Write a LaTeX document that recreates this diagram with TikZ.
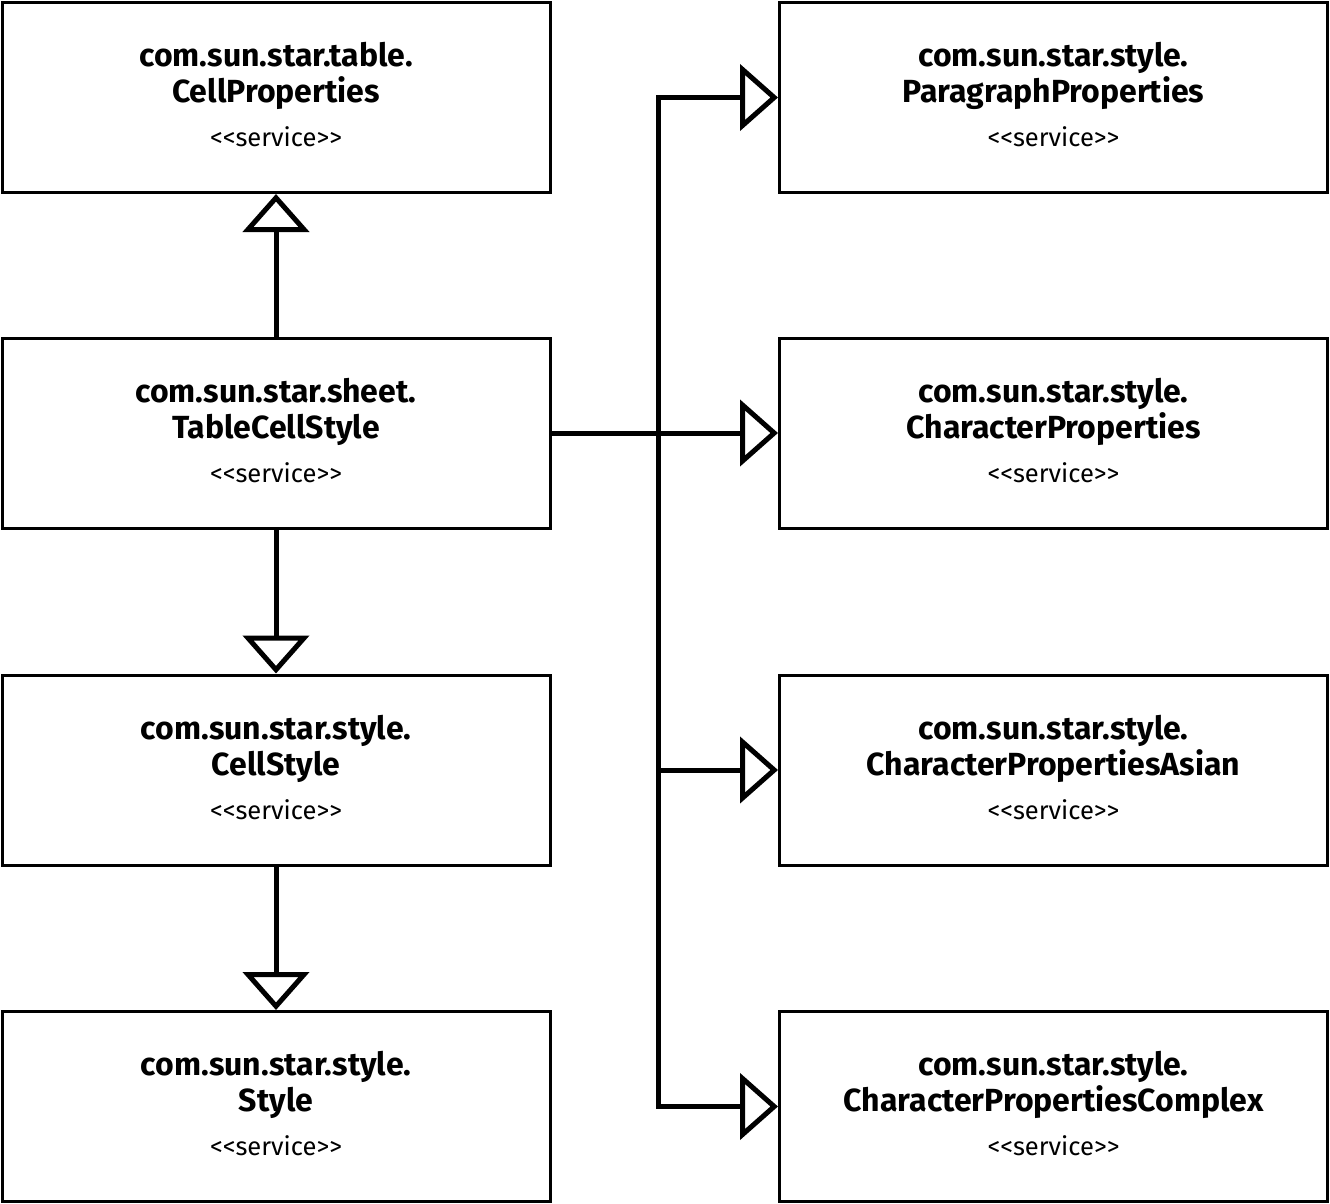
\documentclass[tikz,border=0pt]{standalone}
\usepackage{fontspec}
\setmainfont{Fira Sans}
\usetikzlibrary{arrows.meta}
\begin{document}
\begin{tikzpicture}[x=1pt,y=-1pt,
  svc/.style={draw, line width=3pt, minimum width=548pt, minimum height=190pt, inner sep=0pt, align=center, font=\fontsize{32}{36}\selectfont\bfseries},
  inh/.style={line width=5pt, -{Triangle[open, length=38pt, width=66pt]}}]
\useasboundingbox (0,0) rectangle (1330,1204);
\newcommand{\svcbox}[2]{#1\\#2\\[8pt]{\mdseries\fontsize{25.5}{28}\selectfont <{}<service>{}>\rule[-6pt]{0pt}{0pt}}}
\node[svc] (cellprop) at (276,97.5) {\svcbox{com.sun.star.table.}{CellProperties}};
\node[svc] (tcs) at (276,433) {\svcbox{com.sun.star.sheet.}{TableCellStyle}};
\node[svc] (cellstyle) at (276,770) {\svcbox{com.sun.star.style.}{CellStyle}};
\node[svc] (style) at (276,1106.5) {\svcbox{com.sun.star.style.}{Style}};
\node[svc] (pp) at (1053.5,97.5) {\svcbox{com.sun.star.style.}{ParagraphProperties}};
\node[svc] (cp) at (1053.5,433) {\svcbox{com.sun.star.style.}{CharacterProperties}};
\node[svc] (cpa) at (1053.5,770) {\svcbox{com.sun.star.style.}{CharacterPropertiesAsian}};
\node[svc] (cpc) at (1053.5,1106.5) {\svcbox{com.sun.star.style.}{CharacterPropertiesComplex}};
\coordinate (bus) at (658,433);
\draw[inh] (tcs.north) -- (cellprop.south);
\draw[inh] (tcs.south) -- (cellstyle.north);
\draw[inh] (cellstyle.south) -- (style.north);
\draw[inh] (tcs.east) -- (cp.west);
\draw[inh] (bus) |- (pp.west);
\draw[inh] (bus) |- (cpa.west);
\draw[inh] (bus) |- (cpc.west);
\end{tikzpicture}
\end{document}
